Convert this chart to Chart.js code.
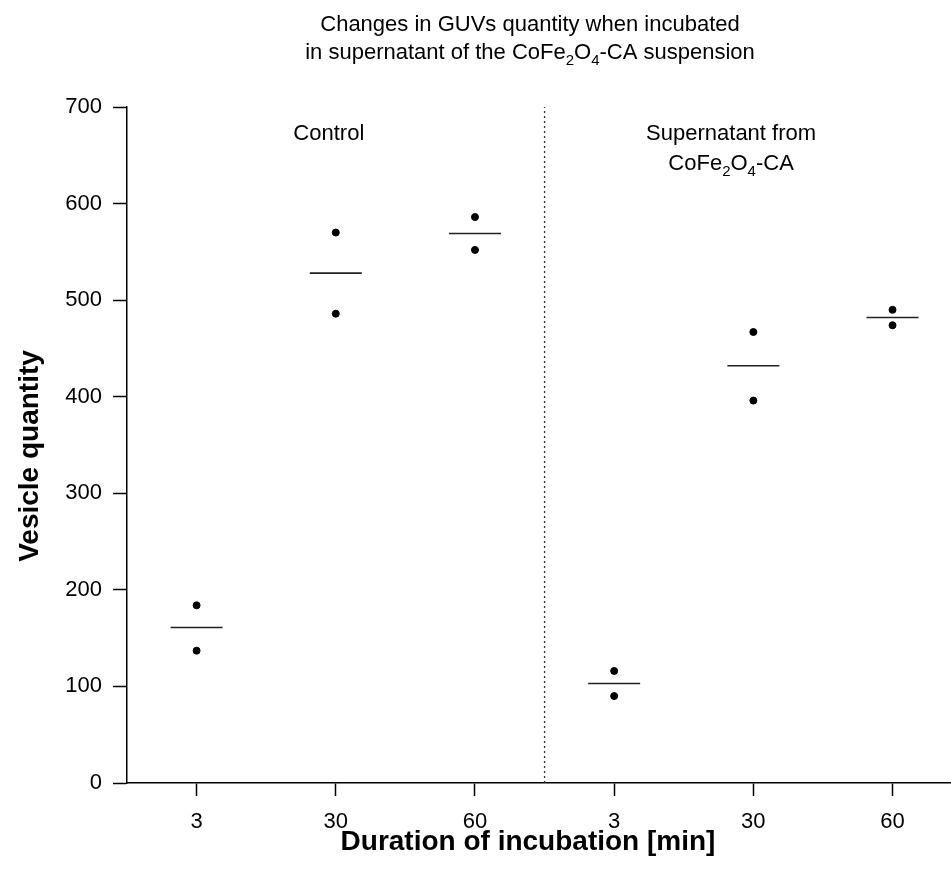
<!DOCTYPE html>
<html>
<head>
<meta charset="utf-8">
<script src="https://cdn.jsdelivr.net/npm/chart.js@4.4.1/dist/chart.umd.min.js"></script>
<style>
  body { margin: 0; background: #fff; }
  canvas { display: block; }
</style>
</head>
<body>
<canvas id="chart" width="951" height="877"></canvas>
<script>
// positions 1..6 on the x axis: Control 3/30/60, then Supernatant 3/30/60
const positions = [1, 2, 3, 4, 5, 6]
const tickLabels = ["3", "30", "60", "3", "30", "60"]
const replicateA = [184, 570, 586, 116, 467, 490]
const replicateB = [137, 486, 552, 90, 396, 474]
const means = [161, 528, 569, 103, 432, 482]
const dividerAt = 3.5
const yTicks = [0, 100, 200, 300, 400, 500, 600, 700]

const FONT = "'Liberation Sans', Arial, Helvetica, sans-serif"

// draws a string made of parts, some of them subscripts, centered on x
function drawRich(ctx, parts, cx, baseline, size) {
  const subSize = Math.round(size * 0.68)
  let total = 0
  parts.forEach(p => {
    ctx.font = (p.sub ? subSize : size) + "px " + FONT
    p.w = ctx.measureText(p.t).width
    total += p.w
  })
  let x = cx - total / 2
  ctx.textAlign = "left"
  ctx.textBaseline = "alphabetic"
  parts.forEach(p => {
    ctx.font = (p.sub ? subSize : size) + "px " + FONT
    ctx.fillText(p.t, x, baseline + (p.sub ? 6 : 0))
    x += p.w
  })
}

const textPlugin = {
  id: "texts",
  afterDraw(chart) {
    const ctx = chart.ctx
    const xs = chart.scales.x
    const ys = chart.scales.y
    ctx.save()
    ctx.fillStyle = "#000"

    // title
    drawRich(ctx, [{ t: "Changes in GUVs quantity when incubated" }], 530, 31, 22)
    drawRich(ctx, [
      { t: "in supernatant of the CoFe" }, { t: "2", sub: true },
      { t: "O" }, { t: "4", sub: true }, { t: "-CA suspension" }
    ], 530, 59, 22)

    // group labels
    drawRich(ctx, [{ t: "Control" }], xs.getPixelForValue(1.95), ys.getPixelForValue(666), 22)
    drawRich(ctx, [{ t: "Supernatant from" }], xs.getPixelForValue(4.84), ys.getPixelForValue(666), 22)
    drawRich(ctx, [
      { t: "CoFe" }, { t: "2", sub: true }, { t: "O" }, { t: "4", sub: true }, { t: "-CA" }
    ], xs.getPixelForValue(4.84), ys.getPixelForValue(635), 22)

    // axis titles
    ctx.font = "bold 28px " + FONT
    ctx.textAlign = "center"
    ctx.textBaseline = "middle"
    ctx.fillText("Duration of incubation [min]", 528, 842)
    ctx.translate(30, 456)
    ctx.rotate(-Math.PI / 2)
    ctx.fillText("Vesicle quantity", 0, 0)
    ctx.restore()
  }
}

const toPoints = arr => arr.map((v, i) => ({ x: positions[i], y: v }))

new Chart(document.getElementById("chart"), {
  type: "scatter",
  data: {
    datasets: [
      {
        label: "Replicate A",
        data: toPoints(replicateA),
        backgroundColor: "#000",
        borderColor: "#000",
        pointRadius: 3.5,
        pointHoverRadius: 3.5
      },
      {
        label: "Replicate B",
        data: toPoints(replicateB),
        backgroundColor: "#000",
        borderColor: "#000",
        pointRadius: 3.5,
        pointHoverRadius: 3.5
      },
      {
        label: "Mean",
        data: toPoints(means),
        pointStyle: "line",
        pointRadius: 26,
        pointHoverRadius: 26,
        borderColor: "#222",
        borderWidth: 1.6,
        pointBorderWidth: 1.6
      },
      {
        label: "Divider",
        type: "line",
        data: [{ x: dividerAt, y: 0 }, { x: dividerAt, y: 700 }],
        borderColor: "#333",
        borderWidth: 1.3,
        borderDash: [2, 3],
        pointRadius: 0,
        fill: false
      }
    ]
  },
  options: {
    responsive: false,
    devicePixelRatio: 1,
    animation: false,
    layout: {
      autoPadding: false,
      padding: { top: 107, left: 0, right: 0, bottom: 0 }
    },
    plugins: {
      legend: { display: false },
      tooltip: { enabled: false },
      title: { display: false }
    },
    scales: {
      x: {
        type: "linear",
        min: 0.5,
        max: 6.42,
        afterBuildTicks: scale => {
          scale.ticks = positions.map(v => ({ value: v }))
        },
        afterFit: scale => {
          scale.height = 94
          scale.paddingLeft = 0
          scale.paddingRight = 0
        },
        border: { display: true, color: "#000", width: 1.5 },
        grid: {
          display: true,
          drawOnChartArea: false,
          drawTicks: true,
          tickLength: 13,
          tickColor: "#000",
          tickWidth: 1.5
        },
        ticks: {
          autoSkip: false,
          maxRotation: 0,
          padding: 13,
          color: "#000",
          font: { family: FONT, size: 22 },
          callback: v => tickLabels[v - 1]
        }
      },
      y: {
        min: 0,
        max: 700,
        afterBuildTicks: scale => {
          scale.ticks = yTicks.map(v => ({ value: v }))
        },
        afterFit: scale => {
          scale.width = 127
          scale.paddingTop = 0
          scale.paddingBottom = 0
        },
        border: { display: true, color: "#000", width: 1.5 },
        grid: {
          display: true,
          drawOnChartArea: false,
          drawTicks: true,
          tickLength: 14,
          tickColor: "#000",
          tickWidth: 1.5
        },
        ticks: {
          padding: 11,
          color: "#000",
          font: { family: FONT, size: 22 }
        }
      }
    }
  },
  plugins: [textPlugin]
})
</script>
</body>
</html>
